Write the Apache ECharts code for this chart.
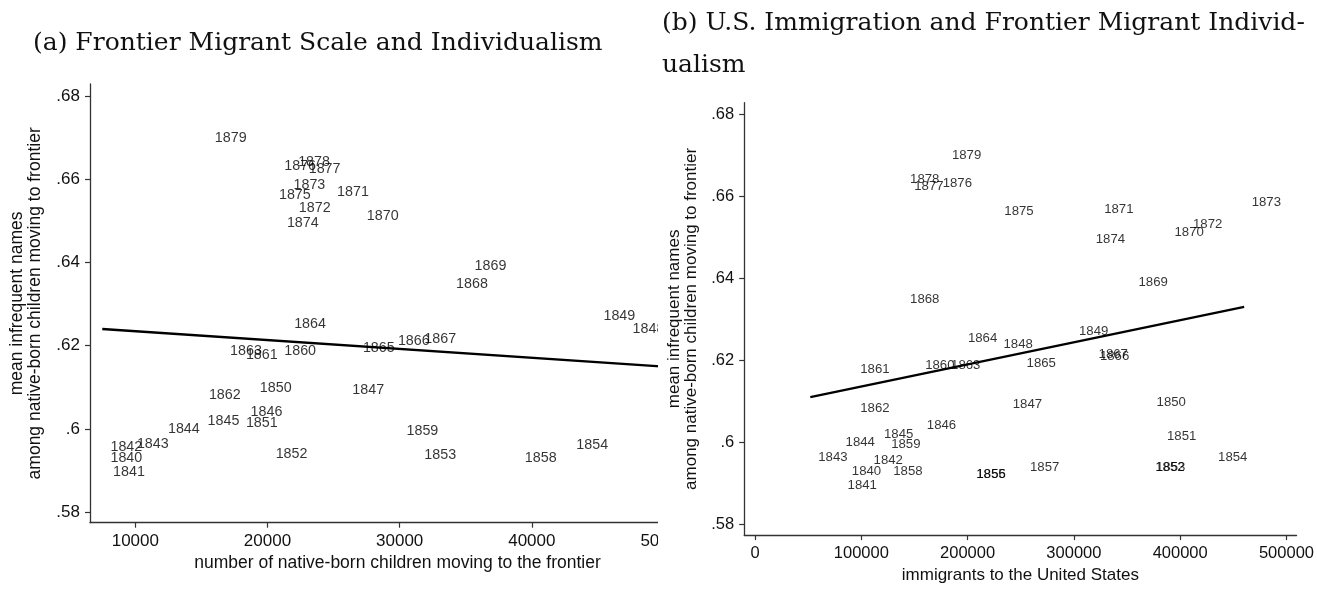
<!DOCTYPE html>
<html><head><meta charset="utf-8">
<script src="https://cdn.jsdelivr.net/npm/echarts@6/dist/echarts.min.js"></script>
<style>
html,body{margin:0;padding:0;background:#fff;}
#wrap{position:relative;width:1317px;height:589px;overflow:hidden;background:#fff;}
#clipA{position:absolute;left:0;top:0;width:658px;height:589px;overflow:hidden;}
#chartA{position:absolute;left:0;top:0;width:720px;height:589px;}
#chartB{position:absolute;left:657px;top:0;width:660px;height:589px;}
</style></head><body>
<div id="wrap"><div id="clipA"><div id="chartA"></div></div><div id="chartB"></div></div>
<script>
// years 1840..1879
const years = [1840,1841,1842,1843,1844,1845,1846,1847,1848,1849,1850,1851,1852,1853,1854,1855,1856,1857,1858,1859,
               1860,1861,1862,1863,1864,1865,1866,1867,1868,1869,1870,1871,1872,1873,1874,1875,1876,1877,1878,1879];
// mean infrequent names among native-born children moving to frontier
const infrequentNames = [.5929,.5895,.5956,.5964,.5999,.6018,.6040,.6093,.6239,.6271,.6097,.6015,.5939,.5938,.5962,.5922,.5922,.5938,.5929,.5994,
                         .6188,.6178,.6082,.6188,.6253,.6193,.6210,.6215,.6348,.6391,.6511,.6569,.6531,.6586,.6494,.6563,.6631,.6625,.6642,.6699];
// number of native-born children moving to the frontier (1855-1857 lie beyond the visible range)
const frontierMigrants = [7550,7750,7550,9550,11900,14900,18150,25850,47050,44850,18850,17800,20050,31300,42800,null,null,null,38900,29950,
                          20700,17800,15000,16600,21450,26650,29300,31300,33700,35100,26950,24700,21800,21400,20900,20300,20700,22550,21750,15450];
// immigrants to the United States
const immigrants = [84000,80000,104500,52400,78100,114300,154600,235400,226700,297700,370700,380500,369500,370200,428600,201100,201300,251600,123000,121000,
                    153000,91900,91900,177400,193200,248400,317400,316200,138800,353700,387600,321400,405000,460200,313500,227500,169500,142700,138800,178200];
// fitted lines (endpoints)
const fitA = [[7500,0.6240],[53100,0.6143]];
const fitB = [[52000,0.6110],[460200,0.6330]];
// ticks
const yTicks = [0.58,0.60,0.62,0.64,0.66,0.68];
const xTicksA = [10000,20000,30000,40000,50000];
const xTicksB = [0,100000,200000,300000,400000,500000];
const titleA = '(a) Frontier Migrant Scale and Individualism';
const titleB = '(b) U.S. Immigration and Frontier Migrant Individ-\nualism';
const yName = 'mean infrequent names\namong native-born children moving to frontier';
const xNameA = 'number of native-born children moving to the frontier';
const xNameB = 'immigrants to the United States';

const SANS = 'Liberation Sans, Arial, sans-serif';
const SERIF = 'DejaVu Serif, serif';
const axisCol = '#333';
const fmtY = v => { let s = v.toFixed(2).replace(/^0/, ''); return s.replace(/0$/, ''); };

function pts(xs){
  const out = [];
  for (let i = 0; i < years.length; i++) if (xs[i] != null) out.push({value:[xs[i], infrequentNames[i]], name:String(years[i])});
  return out;
}
function build(o){
  return {
    animation:false,
    title:{text:o.title, left:o.titleLeft, top:o.titleTop,
      textStyle:{fontFamily:SERIF, fontSize:25, fontWeight:'normal', color:'#111', lineHeight:o.titleLH}},
    grid:o.grid,
    xAxis:{type:'value', min:o.xmin, max:o.xmax, name:o.xName, nameLocation:'middle', nameGap:o.xNameGap,
      nameTextStyle:{fontFamily:SANS, fontSize:o.nameSize, color:'#111'},
      axisLine:{show:true, onZero:false, lineStyle:{color:axisCol, width:1.3}},
      axisTick:{show:true, length:5, customValues:o.xTicks, lineStyle:{color:axisCol, width:1.2}},
      axisLabel:{customValues:o.xTicks, formatter:v=>String(v), fontFamily:SANS, fontSize:o.tickSize, color:'#111', margin:10},
      splitLine:{show:false}},
    yAxis:{type:'value', min:o.ymin, max:o.ymax, name:yName, nameLocation:'middle', nameRotate:90, nameGap:o.yNameGap,
      nameTextStyle:{fontFamily:SANS, fontSize:o.nameSize, lineHeight:o.nameSize+0.5, color:'#111', align:'center'},
      axisLine:{show:true, onZero:false, lineStyle:{color:axisCol, width:1.3}},
      axisTick:{show:true, length:5, customValues:yTicks, lineStyle:{color:axisCol, width:1.2}},
      axisLabel:{customValues:yTicks, formatter:fmtY, fontFamily:SANS, fontSize:o.tickSize, color:'#111', margin:10},
      splitLine:{show:false}},
    series:[
      {type:'scatter', data:pts(o.xs), symbolSize:1, itemStyle:{color:'rgba(0,0,0,0)'},
       label:{show:true, position:'right', distance:7, formatter:p=>p.name, fontFamily:SANS, fontSize:o.labelSize, color:'#000'},
       silent:true},
      {type:'line', data:o.fit, symbol:'none', lineStyle:{color:'#000', width:2.3}, silent:true}
    ]
  };
}
const cA = echarts.init(document.getElementById('chartA'), null, {renderer:'canvas'});
cA.setOption(build({title:titleA, titleLeft:28, titleTop:24, titleLH:28,
  grid:{left:89, right:15, top:84, bottom:66.3}, xmin:6571, xmax:53100, ymin:0.57743, ymax:0.6829,
  xName:xNameA, xNameGap:30, yNameGap:46, xTicks:xTicksA, xs:frontierMigrants, fit:fitA,
  labelSize:14.3, tickSize:17, nameSize:17.5}));
const cB = echarts.init(document.getElementById('chartB'), null, {renderer:'canvas'});
cB.setOption(build({title:titleB, titleLeft:0, titleTop:-3, titleLH:42,
  grid:{left:87.2, right:18.1, top:102.7, bottom:48}, xmin:-10212, xmax:509463, ymin:0.57736, ymax:0.68279,
  xName:xNameB, xNameGap:30, yNameGap:40, xTicks:xTicksB, xs:immigrants, fit:fitB,
  labelSize:13.2, tickSize:16.5, nameSize:17}));
</script></body></html>
